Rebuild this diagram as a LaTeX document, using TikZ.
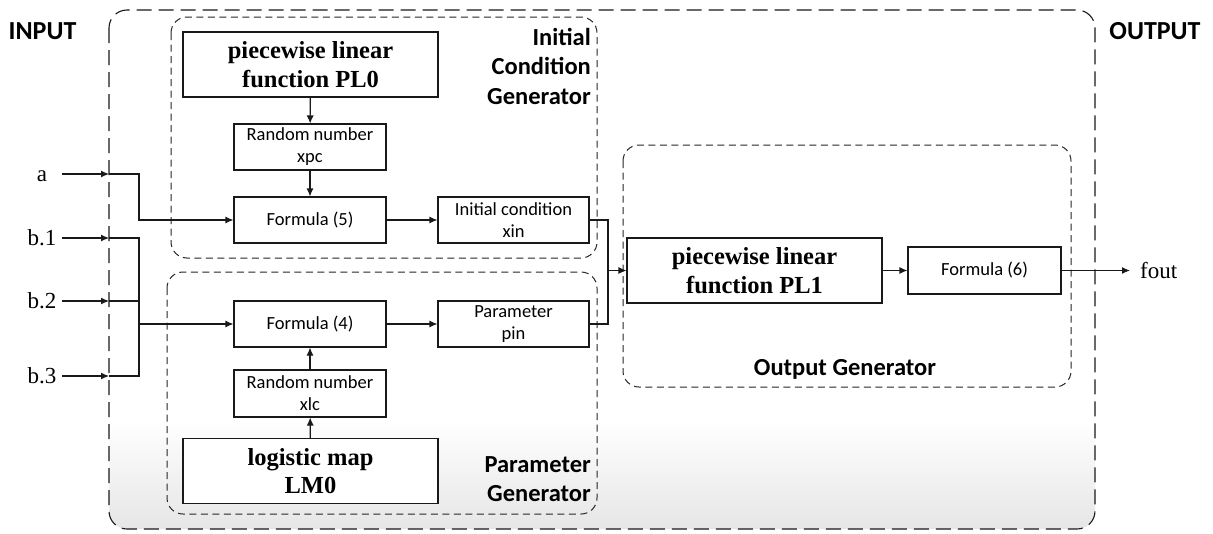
\documentclass[tikz,border=0pt]{standalone}
\usepackage{fontspec}
\setmainfont{Liberation Serif}
\newfontfamily\calfont{Carlito}
\usetikzlibrary{arrows.meta}
\begin{document}
\begin{tikzpicture}[x=1pt,y=-1pt]
\tikzset{
  blk/.style={draw=black!90, line width=1.1pt, fill=white, align=center, inner sep=0pt},
  bigblk/.style={blk, font=\bfseries\fontsize{24.5}{28.5}\selectfont},
  smallblk/.style={blk, font=\calfont\fontsize{18.5}{22}\selectfont},
  grp/.style={draw=black!85, line width=1pt, dash pattern=on 7pt off 4.5pt, rounded corners=16pt},
  outerbox/.style={draw=black!90, line width=1.1pt, dash pattern=on 15pt off 7pt, rounded corners=18pt},
  conn/.style={draw=black!90, line width=1.1pt},
  arr/.style={conn, -{Latex[length=8pt,width=7pt]}},
  grplabel/.style={font=\calfont\bfseries\fontsize{24.5}{29.5}\selectfont, align=right, inner sep=0pt},
  toplabel/.style={font=\calfont\bfseries\fontsize{26}{30}\selectfont, inner sep=0pt},
  inlabel/.style={font=\fontsize{23}{28}\selectfont, inner sep=0pt},
}
\useasboundingbox (0,0) rectangle (1213,533);

% outer container with soft gradient at the bottom
\begin{scope}
  \clip[rounded corners=18pt] (109,10) rectangle (1095,529);
  \fill[white] (109,10) rectangle (1095,529);
  \shade[top color=white, bottom color=black!10] (109,420) rectangle (1095,530);
\end{scope}
\draw[outerbox] (109,10) rectangle (1095,529);

% groups
\draw[grp] (171,17) rectangle (597,258);
\draw[grp] (167,272) rectangle (597,514);
\draw[grp] (623,145) rectangle (1071,387);

\node[grplabel, anchor=north east] (icglab) at (591,28) {Initial\\Condition\\Generator};
\node[grplabel, anchor=north east] (pglab) at (591,456) {Parameter\\Generator};
\node[grplabel, anchor=base] (oglab) at (845,375) {Output Generator};

\node[toplabel] (inputlab) at (42.5,31) {INPUT};
\node[toplabel] (outputlab) at (1155,31) {OUTPUT};

% blocks
\node[bigblk, minimum width=255pt, minimum height=65pt] (PL0) at (310.5,64.5) {piecewise linear\\function PL0};
\node[smallblk, minimum width=152pt, minimum height=46pt] (xpc) at (310,147) {Random number\\xpc};
\node[smallblk, minimum width=152pt, minimum height=46pt] (F5) at (310,220) {Formula (5)};
\node[smallblk, minimum width=151pt, minimum height=46pt] (xin) at (513.5,220) {Initial condition\\xin};
\node[smallblk, minimum width=152pt, minimum height=46pt] (F4) at (310,324) {Formula (4)};
\node[smallblk, minimum width=151pt, minimum height=46pt] (pin) at (513.5,324) {Parameter\\pin};
\node[smallblk, minimum width=152pt, minimum height=47pt] (xlc) at (310,393.5) {Random number\\xlc};
\node[bigblk, minimum width=255pt, minimum height=65pt] (LM0) at (310.5,471) {logistic map\\LM0};
\node[bigblk, minimum width=255pt, minimum height=65pt] (PL1) at (754.5,270.5) {piecewise linear\\function PL1};
\node[smallblk, minimum width=153pt, minimum height=47pt] (F6) at (984.5,270.5) {Formula (6)};

% inputs
\node[inlabel, anchor=base] (a) at (42,181) {a};
\node[inlabel, anchor=base] (b1) at (42,245) {b.1};
\node[inlabel, anchor=base] (b2) at (42,308) {b.2};
\node[inlabel, anchor=base] (b3) at (42,383) {b.3};
\node[inlabel, anchor=base west] (fout) at (1140,278) {fout};

\coordinate (sa) at (62,174);  \coordinate (ea) at (109,174);  \coordinate (ja) at (139,174);
\coordinate (sb1) at (62,238); \coordinate (eb1) at (109,238); \coordinate (jb1) at (139,238);
\coordinate (sb2) at (62,301); \coordinate (eb2) at (109,301); \coordinate (jb2) at (139,301);
\coordinate (sb3) at (62,376); \coordinate (eb3) at (109,376); \coordinate (jb3) at (139,376);
\coordinate (jb) at (139,324);

\draw[arr] (sa) -- (ea);
\draw[arr] (sb1) -- (eb1);
\draw[arr] (sb2) -- (eb2);
\draw[arr] (sb3) -- (eb3);
\draw[arr] (ea) -- (ja) |- (F5.west);
\draw[conn] (eb1) -- (jb1) -- (jb3) -- (eb3);
\draw[conn] (eb2) -- (jb2);
\draw[arr] (jb) -- (F4.west);

% internal flow
\draw[arr] (PL0) -- (xpc);
\draw[arr] (xpc) -- (F5);
\draw[arr] (F5) -- (xin);
\draw[arr] (LM0) -- (xlc);
\draw[arr] (xlc) -- (F4);
\draw[arr] (F4) -- (pin);

\coordinate (jo) at (608,270.5);
\draw[conn] (xin.east) -| (jo);
\draw[conn] (pin.east) -| (jo);
\draw[arr] (jo) -- (PL1.west);
\draw[arr] (PL1) -- (F6);
\coordinate (fo) at (1130,270.5);
\draw[arr] (F6.east) -- (fo);
\end{tikzpicture}
\end{document}
